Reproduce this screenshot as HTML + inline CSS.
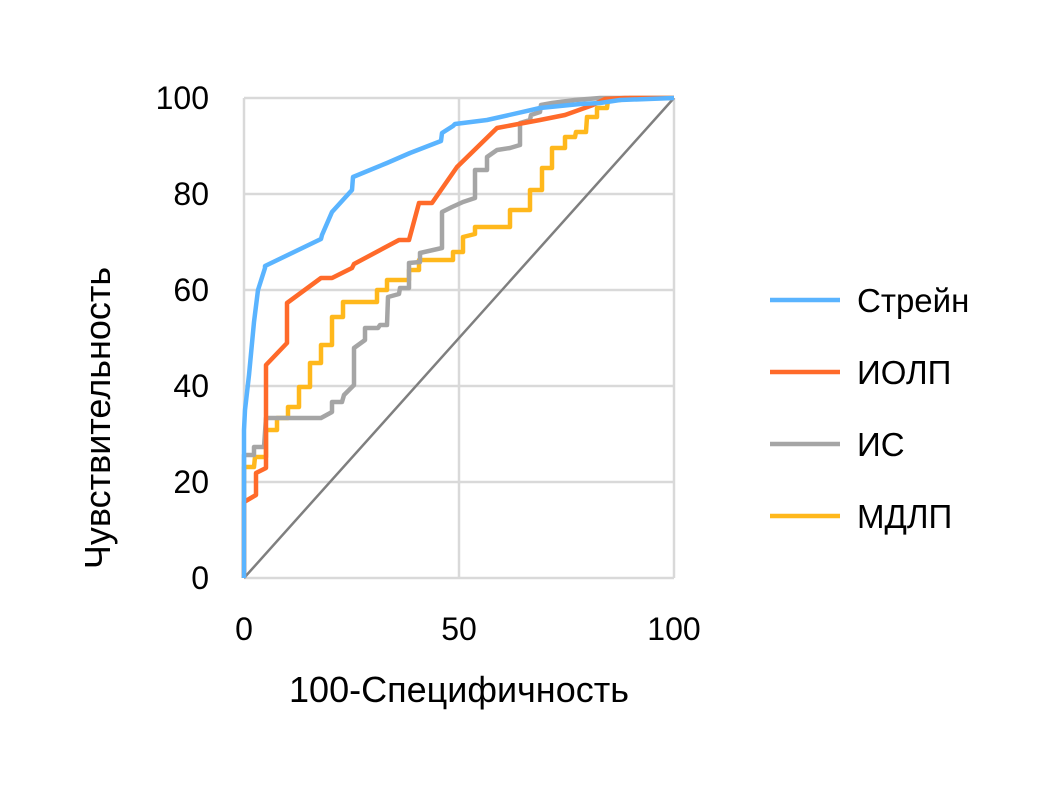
<!DOCTYPE html>
<html><head><meta charset="utf-8"><style>body{margin:0;background:#fff}svg{display:block}text{font-family:"Liberation Sans","DejaVu Sans",sans-serif;fill:#000}</style></head><body>
<svg width="1059" height="793" viewBox="0 0 1059 793">
<g stroke="#d9d9d9" stroke-width="2.5" fill="none">
<line x1="244" y1="98" x2="674" y2="98"/><line x1="244" y1="194" x2="674" y2="194"/><line x1="244" y1="290" x2="674" y2="290"/><line x1="244" y1="386" x2="674" y2="386"/><line x1="244" y1="482" x2="674" y2="482"/><line x1="244" y1="578" x2="674" y2="578"/>
<line x1="244" y1="98" x2="244" y2="578"/><line x1="459" y1="98" x2="459" y2="578"/><line x1="674" y1="98" x2="674" y2="578"/>
</g>
<g font-size="32" text-anchor="end"><text x="209" y="109">100</text><text x="209" y="205">80</text><text x="209" y="301">60</text><text x="209" y="397">40</text><text x="209" y="493">20</text><text x="209" y="589">0</text></g>
<g font-size="32" text-anchor="middle"><text x="244" y="640">0</text><text x="459" y="640">50</text><text x="674" y="640">100</text>
<text x="459" y="702" font-size="36">100-Специфичность</text>
<text transform="translate(110,418) rotate(-90)" font-size="36">Чувствительность</text></g>
<line x1="244" y1="578" x2="674" y2="98" stroke="#7f7f7f" stroke-width="2.5"/>
<g fill="none" stroke-width="4.5" stroke-linejoin="round">
<polyline stroke="#ffb81c" points="244,578 244,467 254,467 255,457 266,457 266,430 277,430 277,418 288,418 288,407 299,407 299,387 310,387 310,363 321,363 321,345 332,345 332,317 343,317 343,302 377,302 377,290 387,290 387,280 409,280 409,270 419,270 419,260 453,260 453,252 463,252 463,237 475,234 475,227 510,227 510,210 530,210 530,190 542,190 542,168 552,168 552,148 565,148 565,137 575,137 576,132 586,132 587,117 597,117 597,108 607,108 608,100 620,100 630,98 674,98"/>
<polyline stroke="#a5a5a5" points="244,578 244,455 254,455 254,447 264,447 266,418 321,418 332,412 332,402 342,402 344,395 354,385 354,348 365,340 365,328 378,328 380,325 387,325 388,297 399,294 400,288 409,288 409,263 420,262 420,253 442,248 442,212 452,207 463,202 475,198 475,170 487,170 487,157 497,150 510,148 520,145 520,123 530,120 531,115 540,112 541,105 552,103 575,100 600,98 674,98"/>
<polyline stroke="#ff6a2a" points="244,578 244,502 256,495 256,473 266,468 266,365 287,343 287,303 321,278 332,278 352,268 354,264 399,240 409,240 419,203 432,203 457,167 497,128 540,120 565,115 593,105 605,99 625,98 674,98"/>
<polyline stroke="#5ab4ff" points="244,578 244,430 245,410 249,375 254,322 258,290 265,268 265,266 321,239 322,235 332,212 352,190 353,177 387,163 410,153 441,141 442,133 453,126 455,124 487,120 540,108 580,104 600,103 620,100 674,98"/>
</g>
<g stroke-width="4.5"><line x1="770" y1="300" x2="840" y2="300" stroke="#5ab4ff"/><line x1="770" y1="372" x2="840" y2="372" stroke="#ff6a2a"/><line x1="770" y1="444" x2="840" y2="444" stroke="#a5a5a5"/><line x1="770" y1="516" x2="840" y2="516" stroke="#ffb81c"/></g>
<g font-size="33"><text x="857" y="312">Стрейн</text><text x="857" y="384">ИОЛП</text><text x="857" y="456">ИС</text><text x="857" y="528">МДЛП</text></g>
</svg></body></html>
